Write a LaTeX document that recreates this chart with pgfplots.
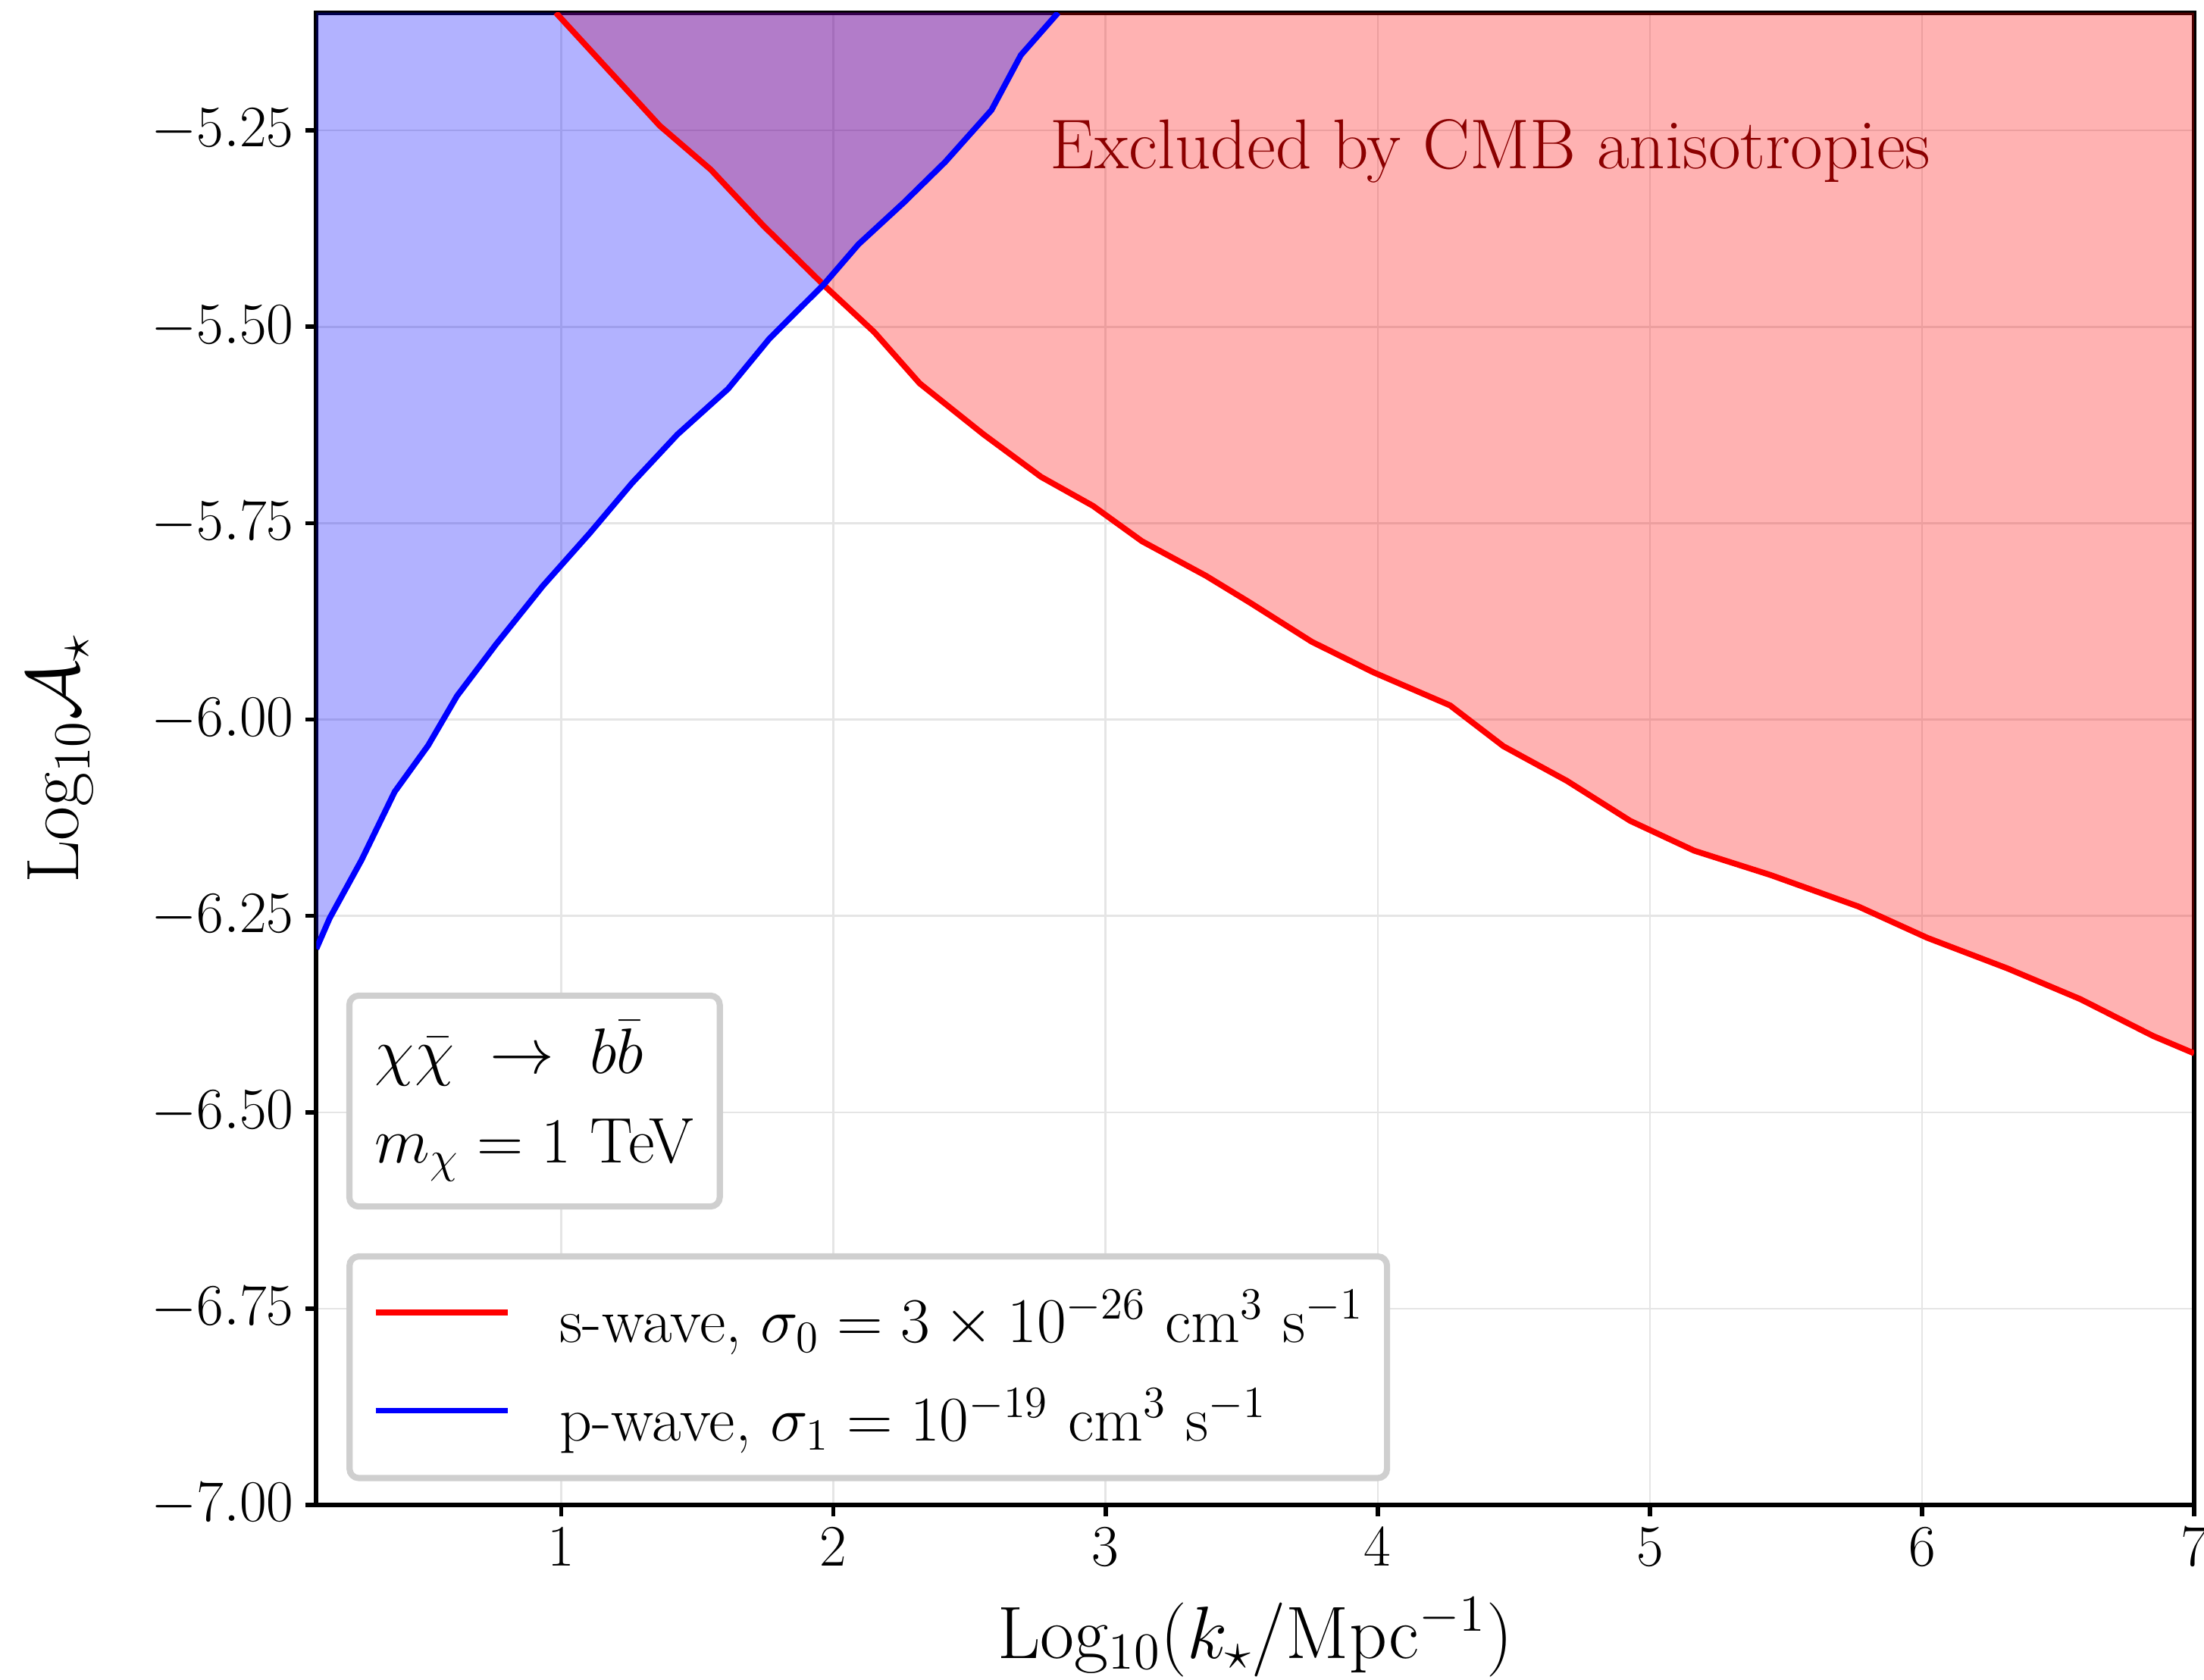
\RequirePackage{fix-cm}
\documentclass[border=0pt]{standalone}
\usepackage{pgfplots}
\pgfplotsset{compat=1.18}
\definecolor{darkred}{RGB}{139,0,0}
\begin{document}
\begin{tikzpicture}
\begin{axis}[
  name=ax,
  scale only axis, width=607.3pt, height=482.7pt,
  xmin=0.1, xmax=7, ymin=-7, ymax=-5.1,
  xtick={1,2,3,4,5,6,7},
  ytick={-7,-6.75,-6.5,-6.25,-6,-5.75,-5.5,-5.25},
  xtick pos=bottom, ytick pos=left,
  tick align=outside, major tick length=3.6pt,
  every tick/.style={black, line width=1.4pt},
  axis line style={line width=1.5pt},
  grid=major, major grid style={gray!20, line width=0.6pt},
  tick label style={font=\fontsize{19}{23}\selectfont, inner sep=0pt},
  xticklabel style={yshift=-3.6pt},
  yticklabel style={xshift=-3.5pt},
  y tick label style={/pgf/number format/fixed, /pgf/number format/fixed zerofill, /pgf/number format/precision=2},
  xlabel={Log$_{10}$($k_\star$/Mpc$^{-1}$)},
  ylabel={Log$_{10}\mathcal{A}_\star$},
  label style={font=\fontsize{24}{29}\selectfont, inner sep=0pt},
  xlabel style={at={(axis description cs:0.5,-0.1026)}, anchor=base},
  ylabel style={at={(axis description cs:-0.1266,0.5)}, anchor=base},
  clip mode=individual,
  legend cell align=left,
  legend image code/.code={\draw[#1, line width=1.9pt, sharp corners] (0pt,1.85pt) -- (42.7pt,1.85pt);},
  legend style={
    at={(axis description cs:0.0177,0.018)}, anchor=south west,
    draw=gray!38, line width=2pt, rounded corners=3pt, fill=white,
    inner xsep=7.5pt, inner ysep=8.2pt, outer sep=0pt,
    font=\fontsize{20.6}{24}\selectfont,
    row sep=8.3pt, column sep=15.9pt,
    nodes={inner sep=0pt, text height=19.6pt, text depth=3.9pt},
  },
]
% red excluded region (s-wave)
\addplot[draw=none, fill=red, fill opacity=0.3, forget plot] coordinates {
(0.98,-5.100) (1.362,-5.244) (1.55,-5.300) (1.742,-5.371) (1.965,-5.447)
(2.151,-5.507) (2.317,-5.572) (2.552,-5.637) (2.763,-5.691) (2.954,-5.728)
(3.134,-5.773) (3.369,-5.817) (3.530,-5.851) (3.758,-5.901) (3.985,-5.940)
(4.266,-5.982) (4.462,-6.034) (4.695,-6.078) (4.928,-6.129) (5.163,-6.167)
(5.444,-6.198) (5.766,-6.238) (6.020,-6.278) (6.315,-6.317) (6.582,-6.356)
(6.850,-6.403) (7.000,-6.425) (7.000,-5.100)
} -- cycle;
% blue excluded region (p-wave)
\addplot[draw=none, fill=blue, fill opacity=0.3, forget plot] coordinates {
(0.100,-6.292) (0.149,-6.253) (0.266,-6.179) (0.388,-6.092) (0.511,-6.033)
(0.617,-5.970) (0.761,-5.904) (0.932,-5.830) (1.104,-5.763) (1.260,-5.699)
(1.427,-5.637) (1.613,-5.579) (1.765,-5.515) (1.965,-5.446) (2.092,-5.395)
(2.258,-5.342) (2.411,-5.290) (2.581,-5.224) (2.689,-5.154) (2.826,-5.100)
(0.100,-5.100)
} -- cycle;
% s-wave boundary
\addplot[red, line width=1.9pt] coordinates {
(0.98,-5.100) (1.362,-5.244) (1.55,-5.300) (1.742,-5.371) (1.965,-5.447)
(2.151,-5.507) (2.317,-5.572) (2.552,-5.637) (2.763,-5.691) (2.954,-5.728)
(3.134,-5.773) (3.369,-5.817) (3.530,-5.851) (3.758,-5.901) (3.985,-5.940)
(4.266,-5.982) (4.462,-6.034) (4.695,-6.078) (4.928,-6.129) (5.163,-6.167)
(5.444,-6.198) (5.766,-6.238) (6.020,-6.278) (6.315,-6.317) (6.582,-6.356)
(6.850,-6.403) (7.000,-6.425)
};
\addlegendentry{s-wave, $\sigma_0 = 3\times10^{-26}$ cm$^3$ s$^{-1}$}
% p-wave boundary
\addplot[blue, line width=1.9pt] coordinates {
(0.100,-6.292) (0.149,-6.253) (0.266,-6.179) (0.388,-6.092) (0.511,-6.033)
(0.617,-5.970) (0.761,-5.904) (0.932,-5.830) (1.104,-5.763) (1.260,-5.699)
(1.427,-5.637) (1.613,-5.579) (1.765,-5.515) (1.965,-5.446) (2.092,-5.395)
(2.258,-5.342) (2.411,-5.290) (2.581,-5.224) (2.689,-5.154) (2.826,-5.100)
};
\addlegendentry{p-wave, $\sigma_1 = 10^{-19}$ cm$^3$ s$^{-1}$}
\node[anchor=base west, inner sep=0pt, text=darkred, font=\fontsize{22.8}{27}\selectfont]
  at (axis cs:2.795,-5.299) {Excluded by CMB anisotropies};
\node[draw=gray!38, line width=2pt, rounded corners=3pt, fill=white, outer sep=0pt,
  inner sep=0pt, minimum width=119.8pt, minimum height=68.2pt,
  align=left, anchor=south west, font=\fontsize{20.8}{29}\selectfont]
  at (axis description cs:0.0176,0.2) {$\chi\bar{\chi}\;\rightarrow\;b\bar{b}$\\$m_\chi = 1$ TeV};
\end{axis}
\pgfresetboundingbox
\path[use as bounding box] ([xshift=-102.3pt,yshift=-56.4pt]ax.south west) rectangle ([xshift=3.2pt,yshift=4.1pt]ax.north east);
\end{tikzpicture}
\end{document}
